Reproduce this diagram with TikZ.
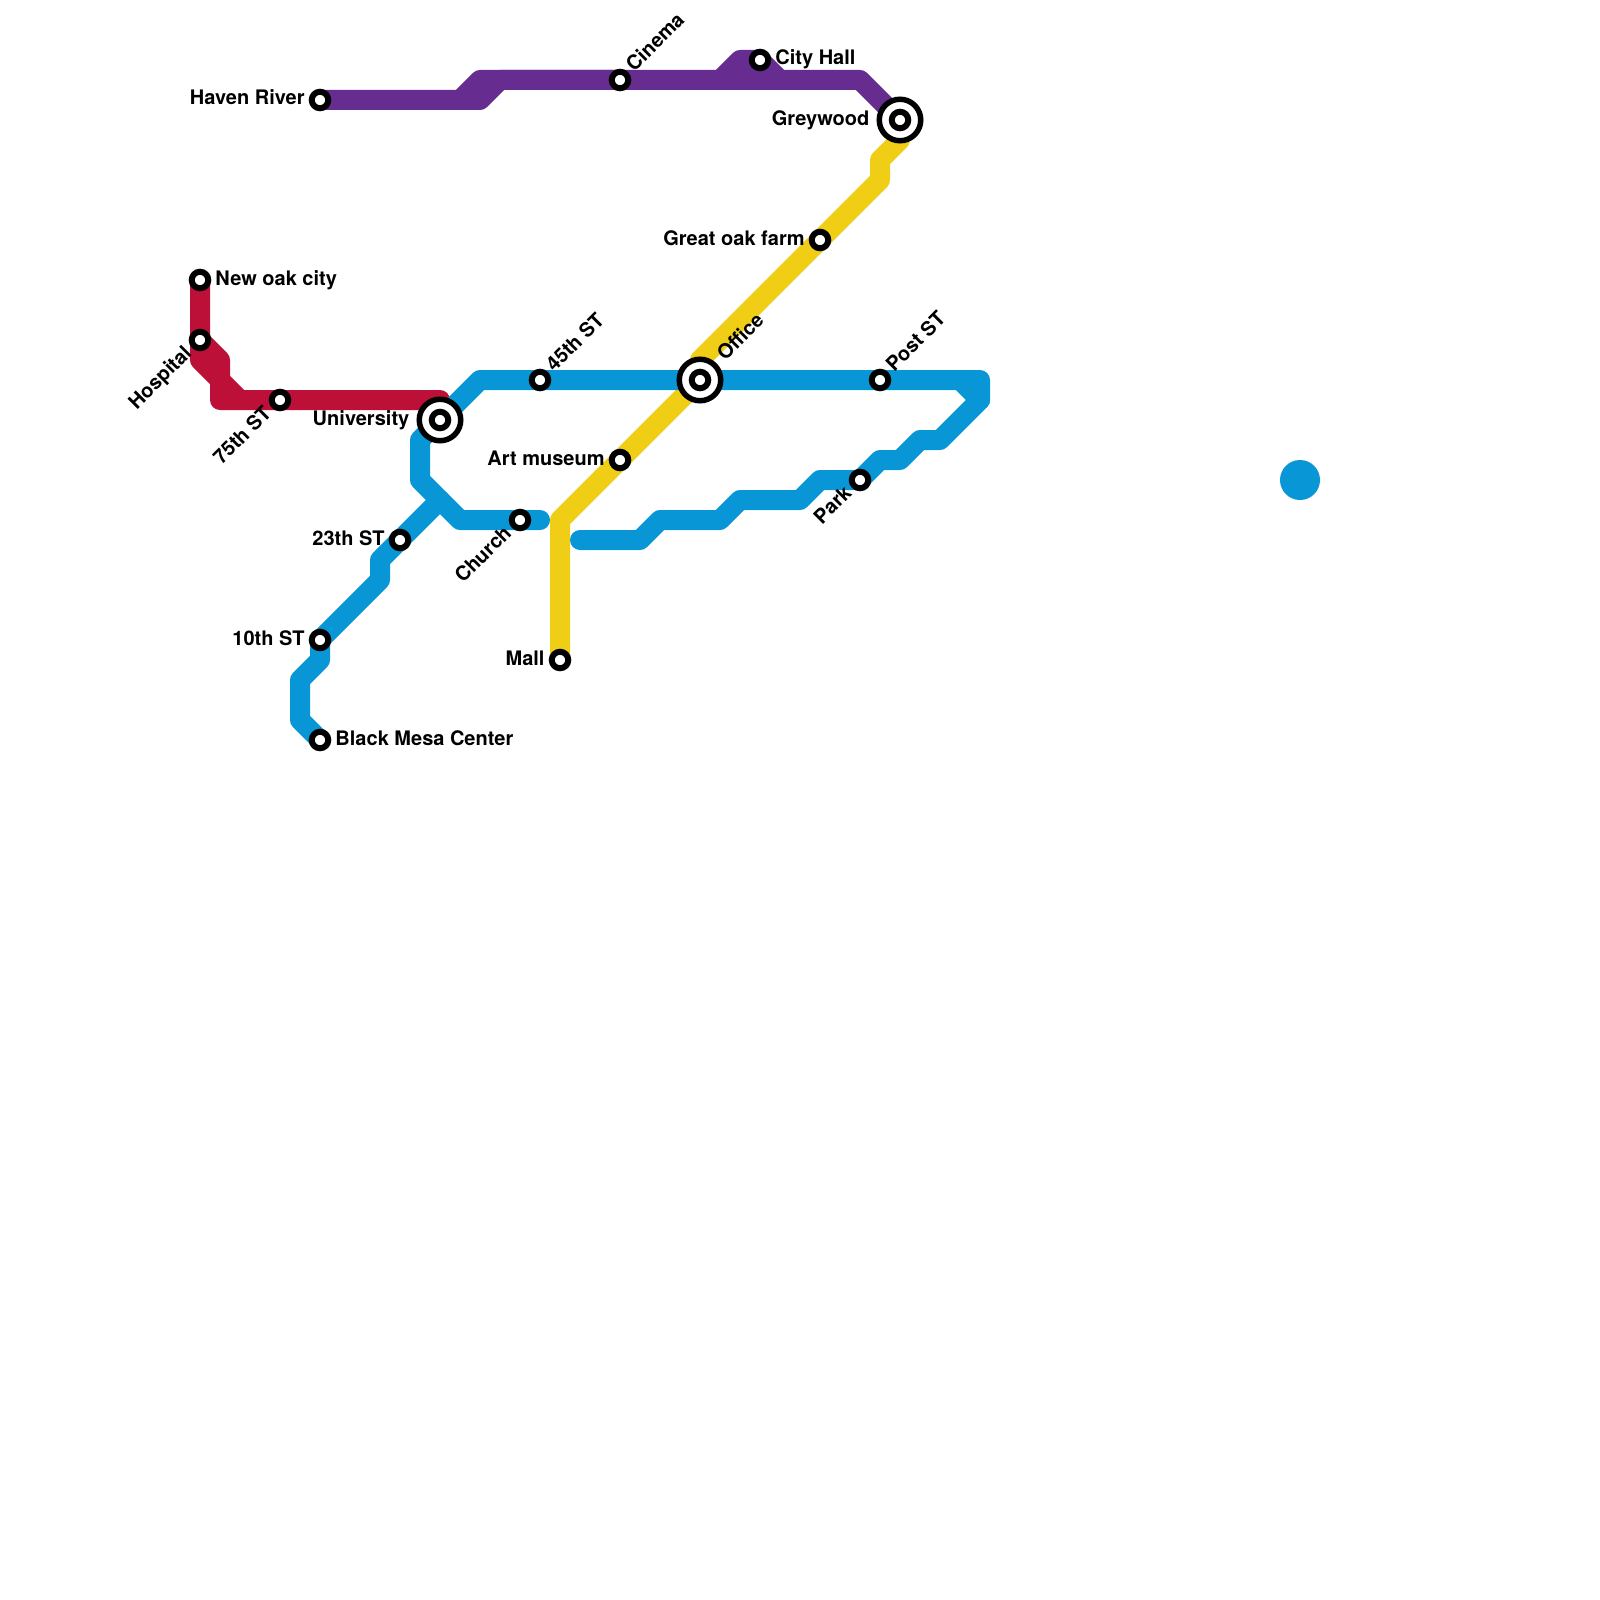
\documentclass[tikz,border=0pt]{standalone}
\usepackage{fontspec}
\setmainfont{TeX Gyre Heros}
\usetikzlibrary{positioning,backgrounds}
\definecolor{lnpurple}{HTML}{662C90}
\definecolor{lnred}{HTML}{BD1038}
\definecolor{lnblue}{HTML}{0896D7}
\definecolor{lnyellow}{HTML}{F0CE15}

\begin{document}
\begin{tikzpicture}[x=1pt,y=-1pt,
  st/.style={circle,draw=black,fill=white,line width=6pt,minimum size=16.5pt,inner sep=0pt},
  hub/.style={circle,draw=black,fill=white,line width=5.5pt,minimum size=41.5pt,inner sep=0pt},
  l/.style={line width=20pt,line cap=round,line join=round},
  t/.style={font=\fontsize{20}{20}\selectfont\bfseries,inner sep=4pt,text height=14pt,text depth=4pt},
  r/.style={t,rotate=45}]
\useasboundingbox (0,0) rectangle (1600,1600);
% stations
\node[st] (newoak) at (200,280) {};
\node[st] (hospital) at (200,340) {};
\node[st] (seventyfive) at (280,400) {};
\node[hub] (universityhub) at (440,420) {};
\node[st] (university) at (440,420) {};
\node[st] (fortyfive) at (540,380) {};
\node[hub] (officehub) at (700,380) {};
\node[st] (office) at (700,380) {};
\node[st] (post) at (880,380) {};
\node[st] (park) at (860,480) {};
\node[st] (church) at (520,520) {};
\node[st] (twentythird) at (400,540) {};
\node[st] (tenth) at (320,640) {};
\node[st] (blackmesa) at (320,740) {};
\node[st] (mall) at (560,660) {};
\node[st] (art) at (620,460) {};
\node[st] (greatoak) at (820,240) {};
\node[hub] (greywoodhub) at (900,120) {};
\node[st] (greywood) at (900,120) {};
\node[st] (cityhall) at (760,60) {};
\node[st] (cinema) at (620,80) {};
\node[st] (haven) at (320,100) {};
\node[circle,fill=lnblue,minimum size=40pt,inner sep=0pt] (dot) at (1300,480) {};
% free ends of the lines
\coordinate (redend) at (440,400);
\coordinate (purpleup) at (460,100);
\coordinate (purplebump) at (720,80);
\coordinate (bluefork) at (440,500);
\coordinate (blueend) at (540,520);
\coordinate (bluecorner) at (960,380);
% lines
\begin{scope}[on background layer]
\draw[l,lnpurple] (haven.center) -- ++(160,0) -- ++(20,-20) -- (cinema.center) -- ++(240,0) -- (greywood.center);
\draw[l,lnpurple] (purpleup) -- ++(20,-20) -- (cinema.center);
\draw[l,lnpurple] (purplebump) -- ++(20,-20) -- (cityhall.center) -- ++(20,20);
\draw[l,lnred] (newoak.center) -- (hospital.center) -- ++(0,20) -- ++(20,20) -- ++(0,20) -- (seventyfive.center) -- (redend);
\draw[l,lnred] (hospital.center) -- ++(20,20) -- ++(0,20) -- ++(20,20);
\draw[l,lnyellow] (greywood.center) -- ++(0,20) -- ++(-20,20) -- ++(0,20) -- (greatoak.center) -- ++(-120,120) -- (office.center) -- (art.center) -- ++(-60,60) -- (mall.center);
\draw[l,lnblue] (university.center) -- ++(40,-40) -- (fortyfive.center) -- (office.center) -- (post.center) -- ++(100,0) -- ++(0,20) -- ++(-40,40) -- ++(-20,0) -- ++(-20,20) -- ++(-20,0) -- (park.center) -- ++(-40,0) -- ++(-20,20) -- ++(-60,0) -- ++(-20,20) -- ++(-60,0) -- ++(-20,20) -- ++(-60,0);
\draw[l,lnblue] (bluecorner) -- ++(20,20);
\draw[l,lnblue] (blackmesa.center) -- ++(-20,-20) -- ++(0,-40) -- ++(20,-20) -- (tenth.center) -- ++(60,-60) -- ++(0,-20) -- (twentythird.center) -- (bluefork);
\draw[l,lnblue] (university.center) -- ++(-20,20) -- ++(0,40) -- ++(40,40) -- (church.center) -- (blueend);
\end{scope}
% labels
\node[t,left=0pt of haven] (havenlbl) {Haven River};
\node[r,anchor=west] (cinemalbl) at (cinema.45) {Cinema};
\node[t,right=0pt of cityhall] (cityhalllbl) {City Hall};
\node[t,inner sep=7pt,left=0pt of greywoodhub] (greywoodlbl) {Greywood};
\node[t,left=0pt of greatoak] (greatoaklbl) {Great oak farm};
\node[t,right=0pt of newoak] (newoaklbl) {New oak city};
\node[r,anchor=east] (hospitallbl) at (hospital.225) {Hospital};
\node[r,anchor=east] (seventyfivelbl) at (seventyfive.225) {75th ST};
\node[t,inner sep=7pt,left=0pt of universityhub] (universitylbl) {University};
\node[r,anchor=west] (fortyfivelbl) at (fortyfive.45) {45th ST};
\node[r,inner sep=7pt,anchor=west] (officelbl) at (officehub.45) {Office};
\node[r,anchor=west] (postlbl) at (post.45) {Post ST};
\node[t,left=0pt of art] (artlbl) {Art museum};
\node[r,anchor=east] (churchlbl) at (church.225) {Church};
\node[r,anchor=east] (parklbl) at (park.225) {Park};
\node[t,left=0pt of twentythird] (twentythirdlbl) {23th ST};
\node[t,left=0pt of tenth] (tenthlbl) {10th ST};
\node[t,right=0pt of blackmesa] (blackmesalbl) {Black Mesa Center};
\node[t,left=0pt of mall] (malllbl) {Mall};
\end{tikzpicture}
\end{document}
